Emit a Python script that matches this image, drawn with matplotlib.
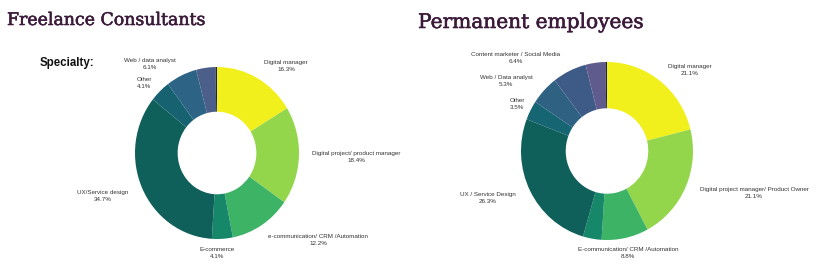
import matplotlib.pyplot as plt
import matplotlib.patheffects as pe

W, H = 820, 273

# data (clockwise from 12 o'clock)
freelance_names = ['Digital manager', 'Digital project/ product manager',
                   'e-communication/ CRM /Automation', 'E-commerce',
                   'UX/Service design', 'Other', 'Web / data analyst', '', '']
freelance_pct = [16.3, 18.4, 12.2, 4.1, 34.7, 4.1, 6.1, 3.8, 0.3]

permanent_names = ['Digital manager', 'Digital project manager/ Product Owner',
                   'E-communication/ CRM /Automation', '',
                   'UX / Service Design', 'Other', 'Web / Data analyst',
                   'Content marketer / Social Media', '', '']
permanent_pct = [21.1, 21.1, 8.8, 3.5, 26.3, 3.5, 5.3, 6.4, 3.7, 0.3]

freelance_colors = ['#f2f01c', '#93d64b', '#3db366', '#17876a', '#0f5f5b',
                    '#166270', '#2d6485', '#4b5f8a', '#1b1f5e']
permanent_colors = ['#f2f01c', '#93d64b', '#3db366', '#17876a', '#0f5f5b',
                    '#166572', '#2f6182', '#3e5b88', '#5f5c8d', '#1b1f5e']

# label anchor points in pixels (x, y from top)
freelance_pos = [(286, 66), (356, 157), (318, 240), (217, 253), (103, 196),
                 (144, 83), (150, 64)]
permanent_pos = [(690, 70), (754, 193), (628, 253), None, (488, 198),
                 (517, 104), (506, 81), (516, 58)]

TITLE_C = '#3b1a3a'
LABEL_C = '#333333'


def donut(fig, cx, cy, rx, ry, values, colors):
    box = 110
    ax = fig.add_axes([(cx - box) / W, 1 - (cy + box) / H, 2 * box / W, 2 * box / H])
    ax.pie(values, colors=colors, startangle=90, counterclock=False,
           wedgeprops=dict(width=0.52, linewidth=0))
    ax.set_aspect('auto')
    ax.set_xlim(-box / rx, box / rx)
    ax.set_ylim(-box / ry, box / ry)
    ax.axis('off')


def labels(fig, names, values, positions):
    for name, val, pos in zip(names, values, positions):
        if not name or pos is None:
            continue
        fig.text(pos[0] / W, 1 - pos[1] / H, f'{name}\n{val}%', ha='center',
                 va='center', fontsize=4.5, family='Liberation Sans',
                 color=LABEL_C, linespacing=1.6)


fig = plt.figure(figsize=(W / 100, H / 100), dpi=100)

donut(fig, 217, 153, 82, 86, freelance_pct, freelance_colors)
donut(fig, 607, 151, 86, 89, permanent_pct, permanent_colors)

labels(fig, freelance_names, freelance_pct, freelance_pos)
labels(fig, permanent_names, permanent_pct, permanent_pos)

thick = [pe.withStroke(linewidth=0.4, foreground=TITLE_C)]
fig.text(7 / W, 1 - 25 / H, 'Freelance Consultants', fontsize=12.5,
         family='DejaVu Serif', color=TITLE_C, va='baseline', path_effects=thick)
fig.text(418 / W, 1 - 28 / H, 'Permanent employees', fontsize=14.5,
         family='DejaVu Serif', color=TITLE_C, va='baseline', path_effects=thick)
fig.text(40 / W, 1 - 63 / H, 'Specialty:', fontsize=8.3, family='Liberation Sans',
         weight='bold', color='#111111', va='center')

fig.savefig('out.png', dpi=100)
